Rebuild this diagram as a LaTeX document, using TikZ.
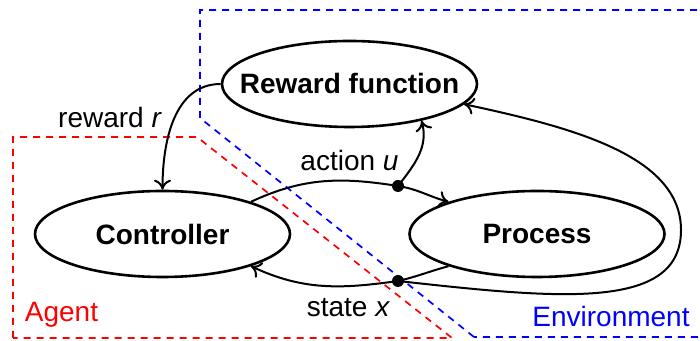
\documentclass[tikz,border=0pt]{standalone}
\usepackage{fontspec}
\setmainfont{Liberation Sans}
\usetikzlibrary{arrows.meta,shapes.geometric}
\begin{document}
\begin{tikzpicture}[x=0.5pt,y=0.5pt,
  box/.style={ellipse,draw,line width=1.3pt,minimum width=127.5pt,minimum height=43pt,inner sep=0pt,
    font=\fontsize{14}{16}\selectfont\bfseries},
  conn/.style={line width=1pt},
  arr/.style={conn,-{To[length=5pt,width=8.5pt]}},
  lbl/.style={anchor=base,inner sep=0pt,font=\fontsize{14}{16}\selectfont},
  dotc/.style={circle,fill,inner sep=0pt,minimum size=6pt},
  zone/.style={line width=0.85pt,dash pattern=on 3.5pt off 3pt}]
\useasboundingbox (0,0) rectangle (700,341);
% zones
\draw[zone,red] (13,3) -- (13,204) -- (197,204) -- (452,3) -- cycle;
\draw[zone,blue] (474,4) -- (200,223) -- (200,331) -- (706,331) -- (706,4) -- cycle;
% nodes
\node[box] (rew) at (349.5,257) {\makebox[0pt]{Reward function}};
\node[box] (ctrl) at (162.5,107) {\makebox[0pt]{Controller}};
\node[box] (proc) at (537,107) {\makebox[0pt]{Process}};
\node[dotc] (adot) at (398,155) {};
\node[dotc] (sdot) at (398,60) {};
\coordinate (loopR) at (681,111);
% connectors
\draw[arr] (rew.180) to[out=180,in=90] (ctrl.90);
\draw[conn] (ctrl.20) to[out=25,in=171] (adot.center);
\draw[arr] (adot.center) to[out=-9,in=165] (proc.160);
\draw[arr] (adot.center) to[out=52,in=-75] (rew.-27);
\draw[conn] (proc.200) to[out=195,in=13] (sdot.center);
\draw[arr] (sdot.center) to[out=188,in=-25] (ctrl.-20);
\draw[arr] (sdot.center) .. controls (560,42) and (681,30) .. (loopR)
  .. controls (681,186) and (570,214) .. (rew.-10);
% labels
\node[lbl] (lr) at (110,213) {reward \textit{r}};
\node[lbl] (la) at (349.5,170.5) {action \textit{u}};
\node[lbl] (ls) at (348.5,24.3) {state \textit{x}};
\node[lbl,text=red] (lag) at (61.5,19.3) {Agent};
\node[lbl,text=blue] (len) at (611,14.3) {Environment};
\end{tikzpicture}
\end{document}
